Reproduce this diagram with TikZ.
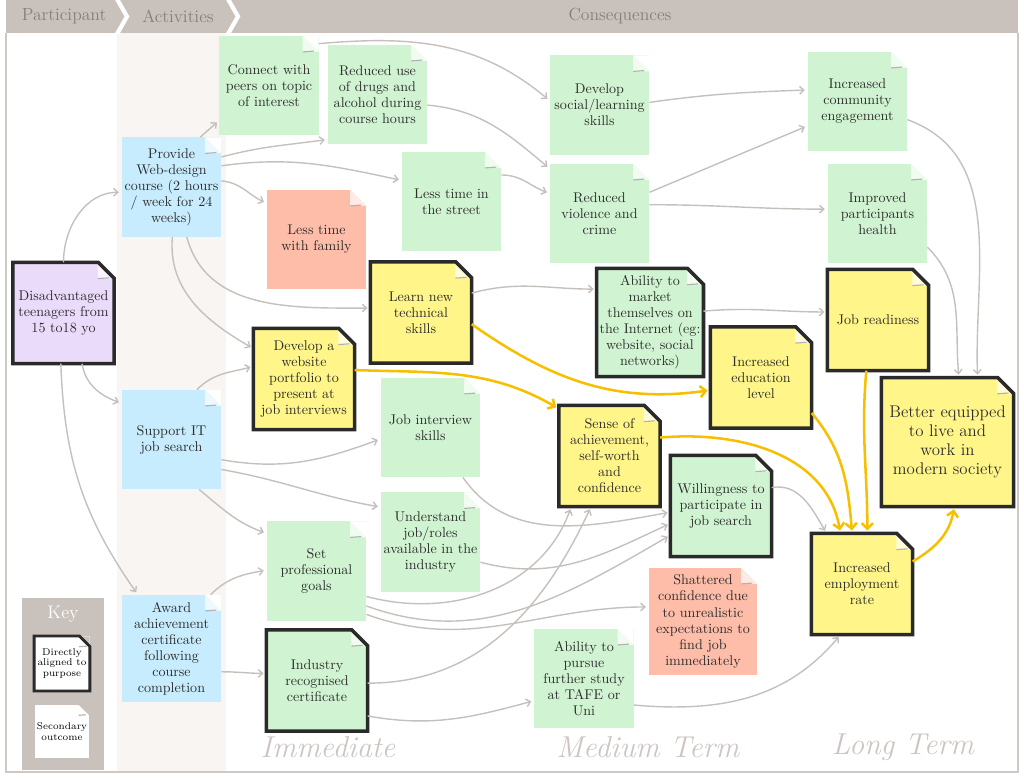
\documentclass[tikz,border=0pt]{standalone}
\usetikzlibrary{arrows.meta,positioning}

\definecolor{headgray}{RGB}{201,193,188}
\definecolor{headtext}{RGB}{135,126,121}
\definecolor{framegray}{RGB}{206,201,197}
\definecolor{colcream}{RGB}{248,245,242}
\definecolor{notegreen}{RGB}{208,244,209}
\definecolor{noteblue}{RGB}{199,236,253}
\definecolor{notepurple}{RGB}{234,219,250}
\definecolor{notesalmon}{RGB}{253,189,168}
\definecolor{noteyellow}{RGB}{255,245,136}
\definecolor{notebord}{RGB}{42,42,42}
\definecolor{notetext}{RGB}{45,45,45}
\definecolor{arrowgray}{RGB}{198,192,189}
\definecolor{arroworange}{RGB}{246,192,0}
\definecolor{termgray}{RGB}{204,197,193}

\newcommand{\notefont}{\fontsize{10}{11.4}\selectfont}
\newcommand{\keyfont}{\fontsize{7}{7.8}\selectfont}

\tikzset{
  foldsize/.store in=\foldsz, foldsize=0.4cm,
  foldback/.store in=\foldbk, foldback=white,
  note/.style={rectangle, fill=#1, minimum width=2.48cm, minimum height=2.48cm,
    inner sep=1pt, align=center, text=notetext, font=\notefont,
    path picture={
      \fill[fill=\foldbk] ([xshift=-\foldsz]path picture bounding box.north east)
        -- (path picture bounding box.north east)
        -- ([yshift=-\foldsz]path picture bounding box.north east) -- cycle;
      \fill[fill=#1!30!white] ([xshift=-\foldsz]path picture bounding box.north east)
        -- ([yshift=-\foldsz]path picture bounding box.north east)
        -- ([shift={(-\foldsz,-\foldsz)}]path picture bounding box.north east) -- cycle;
      \draw[black!30, line width=0.8pt] ([shift={(-\foldsz,-\foldsz)}]path picture bounding box.north east)
        -- ++(0.7*\foldsz,0.05*\foldsz);
    }},
  primary/.style={minimum width=2.52cm, minimum height=2.52cm},
  noteborder/.style={draw=notebord, line width=2.5pt, line join=miter},
  garrow/.style={draw=arrowgray, line width=1pt, -{Straight Barb[length=3pt,width=5.5pt]}, shorten >=2pt},
  oarrow/.style={draw=arroworange, line width=1.8pt, -{Straight Barb[length=4pt,width=8pt]}, shorten >=2pt},
  htext/.style={text=headtext, font=\fontsize{12.5}{14}\selectfont},
  term/.style={text=termgray, font=\fontsize{21.5}{25}\selectfont\itshape}
}

\begin{document}
\begin{tikzpicture}[x=0.025cm, y=-0.025cm]
\useasboundingbox (0,0) rectangle (1024,778);
\fill[colcream] (117,33) rectangle (226,771);
\fill[headgray] (6,0) rectangle (1018,33);
\draw[white, line width=3pt] (117,-1) -- (127,16.5) -- (117,34);
\draw[white, line width=3pt] (228,-1) -- (238,16.5) -- (228,34);
\draw[framegray, line width=2pt] (6,33) -- (6,772) -- (1018,772) -- (1018,33);

\node[htext] (hpart) at (64,16) {Participant};
\node[htext] (hact) at (178,16) {Activities};
\node[htext] (hcons) at (620,16) {Consequences};

\node[note=notepurple, primary] (part) at (63.5,313) {Disadvantaged\\teenagers from\\15 to18 yo};
\node[note=noteblue] (web) at (171.5,187) {Provide\\Web-design\\course (2 hours\\/ week for 24\\weeks)};
\node[note=noteblue] (itsup) at (171.5,439.5) {Support IT\\job search};
\node[note=noteblue, minimum height=2.68cm] (award) at (171.5,648.5) {Award\\achievement\\certificate\\following\\course\\completion};
\node[note=notegreen] (peers) at (269,85.5) {Connect with\\peers on topic\\of interest};
\node[note=notegreen] (drugs) at (377.5,94.5) {Reduced use\\of drugs and\\alcohol during\\course hours};
\node[note=notesalmon] (family) at (316.5,239.5) {Less time\\with family};
\node[note=notegreen] (street) at (451.5,201.5) {Less time in\\the street};
\node[note=noteyellow, primary] (learn) at (421,312.5) {Learn new\\technical\\skills};
\node[note=noteyellow, primary] (portfolio) at (304,379) {Develop a\\website\\portfolio to\\present at\\job interviews};
\node[note=notegreen] (interview) at (430.5,427.5) {Job interview\\skills};
\node[note=notegreen] (roles) at (430.5,542) {Understand\\job/roles\\available in the\\industry};
\node[note=notegreen] (goals) at (316.5,571) {Set\\professional\\goals};
\node[note=notegreen, primary] (cert) at (317,680.5) {Industry\\recognised\\certificate};
\node[note=notegreen] (social) at (599.5,105) {Develop\\social/learning\\skills};
\node[note=notegreen] (violence) at (599.5,213.5) {Reduced\\violence and\\crime};
\node[note=notegreen, primary, minimum width=2.66cm, minimum height=2.69cm] (market) at (650,322.5) {Ability to\\market\\themselves on\\the Internet (eg:\\website, social\\networks)};
\node[note=noteyellow, primary] (sense) at (609.5,456) {Sense of\\achievement,\\self-worth\\and\\confidence};
\node[note=notegreen, primary] (willing) at (721,506) {Willingness to\\participate in\\job search};
\node[note=noteyellow, primary] (edu) at (761,377.5) {Increased\\education\\level};
\node[note=notesalmon, minimum width=2.7cm, minimum height=2.68cm] (shattered) at (703,621.5) {Shattered\\confidence due\\to unrealistic\\expectations to\\find job\\immediately};
\node[note=notegreen] (study) at (584,678.5) {Ability to\\pursue\\further study\\at TAFE or\\Uni};
\node[note=notegreen] (community) at (857.5,101.5) {Increased\\community\\engagement};
\node[note=notegreen] (health) at (877.5,213.5) {Improved\\participants\\health};
\node[note=noteyellow, primary] (ready) at (878,320) {Job readiness};
\node[note=noteyellow, primary, minimum width=3.29cm, minimum height=3.21cm, font=\fontsize{12}{13.6}\selectfont] (better) at (947.5,442) {Better equipped\\to live and\\work in\\modern society};
\node[note=noteyellow, primary] (employ) at (862,584) {Increased\\employment\\rate};

\foreach \n in {part,learn,portfolio,cert,market,sense,willing,edu,ready,better,employ}
  \draw[noteborder] (\n.south west) -- (\n.north west) -- ([xshift=-0.4cm]\n.north east)
    -- ([yshift=-0.4cm]\n.north east) -- (\n.south east) -- cycle;

\node[fill=headgray, minimum width=2.05cm, minimum height=4.3cm] (keybox) at (63,684) {};
\node[text=white, font=\fontsize{13}{15}\selectfont] (keytitle) at (63,614) {Key};
\node[note=white, foldback=headgray, foldsize=0.26cm, minimum width=1.38cm, minimum height=1.36cm, font=\keyfont, text=black] (keyprim) at (62,663.5) {Directly\\aligned to\\purpose};
\node[note=white, foldback=headgray, foldsize=0.26cm, minimum width=1.35cm, minimum height=1.33cm, font=\keyfont, text=black] (keysec) at (62,731.5) {Secondary\\outcome};
\draw[noteborder, line width=2pt] (keyprim.south west) -- (keyprim.north west) -- ([xshift=-0.26cm]keyprim.north east)
  -- ([yshift=-0.26cm]keyprim.north east) -- (keyprim.south east) -- cycle;

\node[term] (timm) at (328,747) {Immediate};
\node[term] (tmed) at (648,747) {Medium Term};
\node[term] (tlong) at (903,747) {Long Term};

\draw[garrow] (part.north) to[out=90,in=180] (web.186);
\draw[garrow] (part.-70) to[out=-80,in=160] (itsup.144);
\draw[garrow] (part.-93) to[out=-88,in=125] (award.122);
\draw[garrow] (web.60) -- (peers.215);
\draw[garrow] (web.31) to[out=15,in=188] (drugs.222);
\draw[garrow] (web.23) to[out=8,in=168] (street.157);
\draw[garrow] (web.7) to[out=-5,in=155] (family.144);
\draw[garrow] (web.-73) to[out=-75,in=180] (learn.175);
\draw[garrow] (web.-89) to[out=-95,in=150] (portfolio.149);
\draw[garrow] (itsup.63) to[out=45,in=195] (portfolio.166);
\draw[garrow] (itsup.-22) to[out=-10,in=200] (interview.193);
\draw[garrow] (itsup.-31) to[out=-10,in=170] (roles.145);
\draw[garrow] (itsup.-61) to[out=-40,in=160] (goals.143);
\draw[garrow] (award.54) to[out=45,in=190] (goals.179);
\draw[garrow] (award.-25) to[out=0,in=180] (cert.172);
\draw[garrow] (peers.40) to[out=5,in=140] (social.175);
\draw[garrow] (drugs.-12) to[out=-5,in=140] (violence.138);
\draw[garrow] (street.28) to[out=0,in=160] (violence.158);
\draw[garrow] (social.3) to[out=8,in=182] (community.167);
\draw[garrow] (violence.23) -- (community.206);
\draw[garrow] (violence.10) to[out=0,in=180] (health.175);
\draw[garrow] (community.-20) to[out=-20,in=92] (better.65);
\draw[garrow] (health.-34) to[out=-45,in=95] (better.80);
\draw[garrow] (learn.21) to[out=15,in=180] (market.148);
\draw[garrow] (market.12) to[out=5,in=180] (ready.171);
\draw[garrow] (willing.20) to[out=10,in=120] (employ.125);
\draw[garrow] (interview.-57) to[out=-55,in=190] (willing.187);
\draw[garrow] (roles.-22) to[out=-15,in=205] (willing.199);
\draw[garrow] (goals.-35) to[out=-20,in=210] (willing.210);
\draw[garrow] (goals.-27) to[out=-15,in=250] (sense.233);
\draw[garrow] (goals.-41) to[out=-20,in=180] (shattered.165);
\draw[garrow] (cert.-3) to[out=0,in=245] (sense.250);
\draw[garrow] (cert.-35) to[out=-10,in=195] (study.204);
\draw[garrow] (study.-28) to[out=-5,in=230] (employ.247);

\draw[oarrow] (portfolio.10) to[out=-2,in=150] (sense.137);
\draw[oarrow] (learn.-13) to[out=-35,in=188] (edu.194);
\draw[oarrow] (sense.20) to[out=5,in=100] (employ.113);
\draw[oarrow] (edu.-35) to[out=-50,in=95] (employ.101);
\draw[oarrow] (ready.-103) to[out=-95,in=90] (employ.84);
\draw[oarrow] (employ.24) to[out=30,in=-100] (better.-84);
\end{tikzpicture}
\end{document}
